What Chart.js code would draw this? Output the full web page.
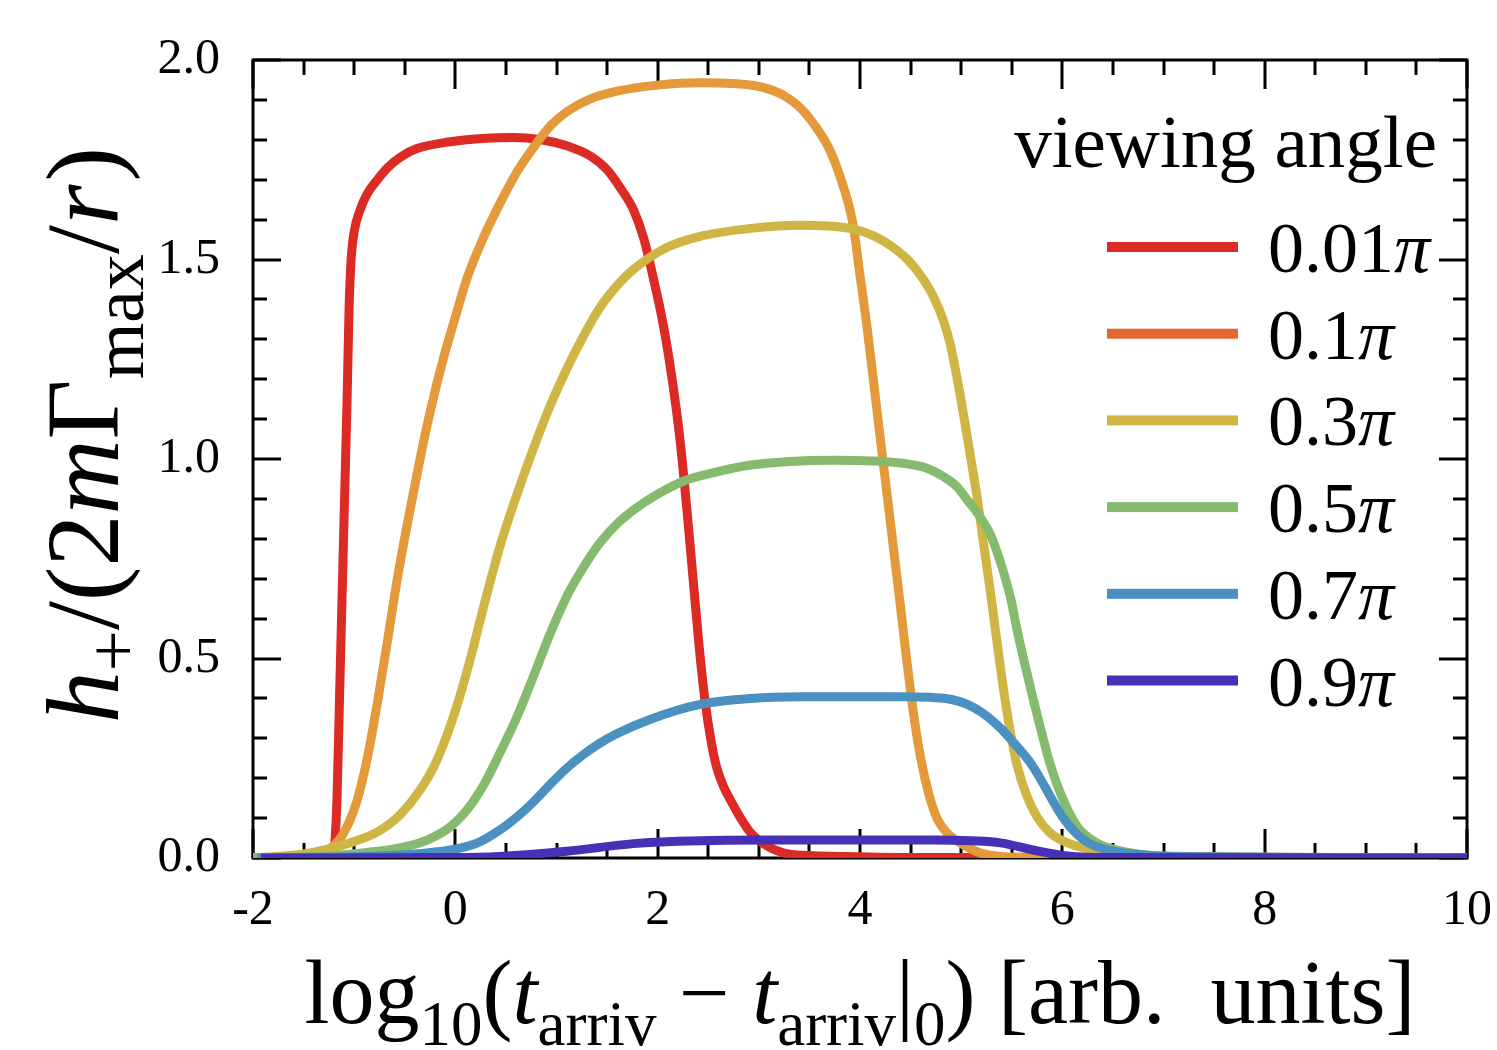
<!DOCTYPE html>
<html>
<head>
<meta charset="utf-8">
<script src="https://cdn.jsdelivr.net/npm/chart.js@4.4.1/dist/chart.umd.min.js"></script>
<style>
  html, body { margin: 0; padding: 0; background: #ffffff; }
  #wrap { width: 1497px; height: 1050px; }
</style>
</head>
<body>
<div id="wrap"><canvas id="chart" width="1497" height="1050"></canvas></div>
<script>
// Strain amplitude h+ versus log arrival time, one curve per viewing angle.
const angleLabels = ['0.01', '0.1', '0.3', '0.5', '0.7', '0.9'];
const lineColors  = ['#dc2a25', '#e49a3a', '#cfb644', '#86bb6f', '#4a90c0', '#4630b8'];
const keyColors   = ['#dc2a25', '#e66631', '#cfb644', '#86bb6f', '#4a90c0', '#4630b8'];

const xTicks = [-2, 0, 2, 4, 6, 8, 10];
const yTicks = [0.0, 0.5, 1.0, 1.5, 2.0];

// 0.01 pi
const t001 = [-2, -1.6, -1.3, -1.22, -1.2, -1.19, -1.17, -1.145, -1.12, -1.095, -1.07, -1.05, -1.03, -1.0, -0.94, -0.87, -0.77, -0.67, -0.54, -0.38, -0.05, 0.3, 0.57, 0.85, 1.1, 1.33, 1.5, 1.63, 1.76, 1.86, 1.96, 2.06, 2.14, 2.22, 2.29, 2.35, 2.41, 2.47, 2.53, 2.58, 2.65, 2.72, 2.82, 2.92, 3.05, 3.24, 3.5, 3.8, 4.6, 10];
const h001 = [0, 0.002, 0.005, 0.008, 0.015, 0.04, 0.145, 0.4, 0.65, 0.9, 1.15, 1.38, 1.5, 1.57, 1.625, 1.665, 1.70, 1.73, 1.757, 1.778, 1.795, 1.804, 1.806, 1.80, 1.785, 1.76, 1.725, 1.68, 1.625, 1.555, 1.45, 1.33, 1.205, 1.05, 0.87, 0.70, 0.53, 0.39, 0.29, 0.23, 0.18, 0.145, 0.10, 0.063, 0.035, 0.013, 0.006, 0.004, 0.001, 0];
// 0.1 pi
const t01 = [-2, -1.6, -1.4, -1.25, -1.15, -1.05, -0.97, -0.87, -0.77, -0.67, -0.58, -0.48, -0.38, -0.3, -0.21, -0.12, 0.02, 0.12, 0.28, 0.44, 0.61, 0.77, 0.94, 1.1, 1.33, 1.6, 2.0, 2.4, 2.75, 2.95, 3.1, 3.24, 3.41, 3.57, 3.7, 3.8, 3.93, 4.0, 4.07, 4.15, 4.22, 4.28, 4.34, 4.4, 4.46, 4.53, 4.6, 4.68, 4.76, 4.86, 4.99, 5.2, 5.6, 10];
const h01 = [0, 0.003, 0.01, 0.022, 0.045, 0.09, 0.145, 0.25, 0.39, 0.545, 0.69, 0.83, 0.96, 1.06, 1.16, 1.25, 1.373, 1.456, 1.556, 1.64, 1.72, 1.78, 1.835, 1.87, 1.902, 1.922, 1.937, 1.943, 1.941, 1.936, 1.927, 1.912, 1.88, 1.83, 1.775, 1.71, 1.59, 1.46, 1.33, 1.16, 1.01, 0.885, 0.757, 0.63, 0.50, 0.36, 0.25, 0.16, 0.10, 0.063, 0.038, 0.012, 0.002, 0];
// 0.3 pi
const t03 = [-2, -1.5, -1.04, -0.81, -0.68, -0.54, -0.35, -0.21, -0.08, 0.05, 0.18, 0.28, 0.44, 0.58, 0.77, 0.94, 1.1, 1.27, 1.43, 1.6, 1.76, 2.09, 2.42, 2.92, 3.41, 3.9, 4.13, 4.33, 4.47, 4.6, 4.73, 4.82, 4.89, 4.99, 5.07, 5.16, 5.22, 5.29, 5.35, 5.42, 5.49, 5.55, 5.65, 5.75, 5.88, 6.05, 6.47, 7, 10];
const h03 = [0, 0.01, 0.038, 0.06, 0.08, 0.11, 0.17, 0.23, 0.31, 0.41, 0.53, 0.63, 0.78, 0.89, 1.025, 1.135, 1.225, 1.31, 1.38, 1.435, 1.475, 1.53, 1.558, 1.578, 1.586, 1.578, 1.56, 1.53, 1.50, 1.46, 1.405, 1.35, 1.29, 1.16, 1.04, 0.90, 0.79, 0.665, 0.55, 0.42, 0.31, 0.235, 0.155, 0.103, 0.063, 0.038, 0.013, 0.003, 0];
// 0.5 pi
const t05 = [-2, -1.3, -0.87, -0.54, -0.28, -0.05, 0.12, 0.28, 0.44, 0.61, 0.77, 0.94, 1.1, 1.27, 1.43, 1.6, 1.76, 2.0, 2.26, 2.59, 2.92, 3.74, 4.4, 4.66, 4.83, 4.96, 5.06, 5.16, 5.29, 5.39, 5.49, 5.55, 5.63, 5.71, 5.8, 5.88, 6.01, 6.15, 6.34, 6.54, 7, 10];
const h05 = [0, 0.005, 0.014, 0.026, 0.045, 0.078, 0.122, 0.183, 0.263, 0.354, 0.454, 0.564, 0.655, 0.73, 0.79, 0.838, 0.872, 0.912, 0.945, 0.968, 0.985, 0.997, 0.99, 0.977, 0.955, 0.93, 0.897, 0.865, 0.81, 0.74, 0.65, 0.575, 0.485, 0.40, 0.31, 0.235, 0.145, 0.078, 0.038, 0.02, 0.005, 0];
// 0.7 pi
const t07 = [-1.96, -1, -0.5, -0.05, 0.22, 0.44, 0.61, 0.77, 0.94, 1.1, 1.27, 1.43, 1.6, 1.93, 2.42, 2.92, 3.41, 4.4, 4.89, 5.06, 5.22, 5.39, 5.55, 5.68, 5.78, 5.88, 6.01, 6.15, 6.27, 6.45, 6.7, 7.2, 10];
const h07 = [0, 0.003, 0.008, 0.02, 0.038, 0.07, 0.103, 0.14, 0.185, 0.225, 0.26, 0.288, 0.312, 0.348, 0.385, 0.40, 0.404, 0.404, 0.398, 0.385, 0.362, 0.325, 0.28, 0.24, 0.20, 0.155, 0.10, 0.058, 0.036, 0.02, 0.01, 0.003, 0];
// 0.9 pi
const t09 = [-1.92, 0, 0.44, 1.1, 1.76, 2.09, 3.08, 4.73, 5.1, 5.39, 5.71, 6.05, 6.5, 10];
const h09 = [0, 0.001, 0.004, 0.017, 0.036, 0.041, 0.045, 0.045, 0.043, 0.038, 0.02, 0.005, 0.001, 0];

const seriesT = [t001, t01, t03, t05, t07, t09];
const seriesH = [h001, h01, h03, h05, h07, h09];

const SERIF = '"Liberation Serif", "DejaVu Serif", "Times New Roman", serif';

function partFont(p, size) {
  const s = p.sub ? size * 0.7 : size;
  return (p.it ? 'italic ' : '') + s + 'px ' + SERIF;
}
function richWidth(ctx, parts, size) {
  let w = 0;
  for (const p of parts) { ctx.font = partFont(p, size); w += ctx.measureText(p.t).width + (p.gap || 0) * size; }
  return w;
}
function drawRich(ctx, parts, x, y, size, align) {
  const w = richWidth(ctx, parts, size);
  let cx = align === 'center' ? x - w / 2 : (align === 'right' ? x - w : x);
  ctx.textAlign = 'left';
  ctx.textBaseline = 'alphabetic';
  for (const p of parts) {
    ctx.font = partFont(p, size);
    const dy = p.sub ? size * (p.shift !== undefined ? p.shift : 0.24) : 0;
    ctx.fillText(p.t, cx, y + dy);
    cx += ctx.measureText(p.t).width + (p.gap || 0) * size;
  }
}

const xTitle = [
  {t: 'log'}, {t: '10', sub: 1}, {t: '('}, {t: 't', it: 1}, {t: 'arriv', sub: 1},
  {t: ' \u2212 '}, {t: 't', it: 1}, {t: 'arriv', sub: 1}, {t: '|'}, {t: '0', sub: 1},
  {t: ')'}, {t: ' [arb.  units]'}
];
const yTitle = [
  {t: 'h', it: 1}, {t: '+', sub: 1, shift: 0.18}, {t: '/'}, {t: '(2'}, {t: 'm', it: 1},
  {t: '\u0393'}, {t: 'max', sub: 1}, {t: '/'}, {t: 'r', it: 1, gap: 0.03}, {t: ')'}
];

// Frame and inward tick marks on all four sides, placed through the chart scales
const framePlugin = {
  id: 'frame',
  beforeDatasetsDraw(chart) {
    const {ctx, chartArea: a, scales: {x, y}} = chart;
    ctx.save();
    ctx.strokeStyle = '#000';
    ctx.lineWidth = 3;
    ctx.lineCap = 'butt';
    ctx.beginPath();
    for (let v = -2; v <= 10.001; v += 0.5) {
      const px = Math.round(x.getPixelForValue(v));
      const major = Math.abs(v / 2 - Math.round(v / 2)) < 1e-6;
      const len = major ? 29 : 15;
      ctx.moveTo(px, a.bottom); ctx.lineTo(px, a.bottom - len);
      ctx.moveTo(px, a.top); ctx.lineTo(px, a.top + len);
    }
    for (let i = 0; i <= 20; i++) {
      const v = i / 10;
      const py = Math.round(y.getPixelForValue(v));
      const len = (i % 5 === 0) ? 28 : 14;
      ctx.moveTo(a.left, py); ctx.lineTo(a.left + len, py);
      ctx.moveTo(a.right, py); ctx.lineTo(a.right - len, py);
    }
    ctx.stroke();
    ctx.strokeRect(a.left, a.top, a.right - a.left, a.bottom - a.top);
    ctx.restore();
  },
  afterDraw(chart) {
    const {ctx, chartArea: a} = chart;
    ctx.save();
    ctx.fillStyle = '#000';
    // axis titles
    drawRich(ctx, xTitle, (a.left + a.right) / 2, 1023, 90, 'center');
    ctx.translate(118, 435);
    ctx.rotate(-Math.PI / 2);
    drawRich(ctx, yTitle, 0, 0, 104, 'center');
    ctx.restore();

    // key
    ctx.save();
    ctx.fillStyle = '#000';
    ctx.font = '75px ' + SERIF;
    ctx.textAlign = 'right';
    ctx.textBaseline = 'alphabetic';
    ctx.fillText('viewing angle', 1437, 167);
    for (let i = 0; i < angleLabels.length; i++) {
      const base = 272 + i * 86.7;
      ctx.fillStyle = keyColors[i];
      ctx.fillRect(1107, base - 30, 131, 10);
      ctx.fillStyle = '#000';
      drawRich(ctx, [{t: angleLabels[i]}, {t: '\u03c0', it: 1}], 1268, base, 72, 'left');
    }
    ctx.restore();
  }
};

const datasets = seriesT.map((ts, i) => ({
  label: angleLabels[i] + '\u03c0',
  data: ts.map((t, k) => ({x: t, y: seriesH[i][k]})),
  borderColor: lineColors[i],
  backgroundColor: lineColors[i],
  borderWidth: 9,
  pointRadius: 0,
  fill: false,
  cubicInterpolationMode: 'monotone',
  order: seriesT.length - i
}));

new Chart(document.getElementById('chart'), {
  type: 'line',
  data: { datasets },
  options: {
    responsive: false,
    animation: false,
    devicePixelRatio: 1,
    layout: { padding: { left: 0, right: 30, top: 60, bottom: 0 }, autoPadding: false },
    plugins: { legend: { display: false }, tooltip: { enabled: false } },
    scales: {
      x: {
        type: 'linear', min: -2, max: 10,
        afterBuildTicks: s => { s.ticks = xTicks.map(v => ({value: v})); },
        ticks: {
          color: '#000', padding: 23, maxRotation: 0, autoSkip: false,
          font: { family: SERIF, size: 50 },
          callback: v => String(v)
        },
        grid: { display: false, drawTicks: false },
        border: { display: false },
        afterFit: s => { s.height = 192; s.paddingLeft = 0; s.paddingRight = 0; }
      },
      y: {
        type: 'linear', min: 0, max: 2,
        afterBuildTicks: s => { s.ticks = yTicks.map(v => ({value: v})); },
        ticks: {
          color: '#000', padding: 33,
          font: { family: SERIF, size: 50 },
          callback: v => Number(v).toFixed(1)
        },
        grid: { display: false, drawTicks: false },
        border: { display: false },
        afterFit: s => { s.width = 253; s.paddingTop = 0; s.paddingBottom = 0; }
      }
    }
  },
  plugins: [framePlugin]
});
</script>
</body>
</html>
